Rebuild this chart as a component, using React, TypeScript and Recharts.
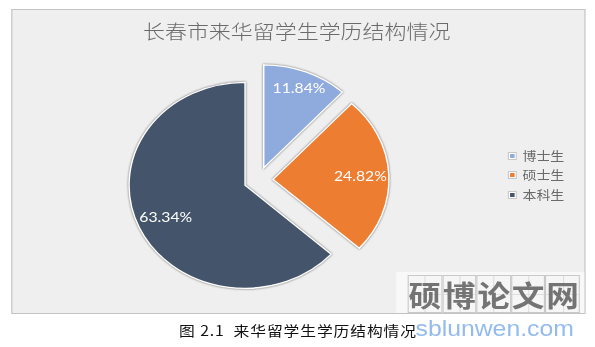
import { PieChart, Pie, Cell } from 'recharts';

// source picture is stretched horizontally, so lay out at 528 wide and scale x
const STRETCH = 1.126;
const BASE_W = 528;
const BASE_H = 347;

const categories = ['博士生', '硕士生', '本科生'];
const shares = [11.84, 24.82, 63.34];
const colors = ['#8FAADC', '#ED7D31', '#44546A'];

const title = '长春市来华留学生学历结构情况';
const caption = '图 2.1  来华留学生学历结构情况';
const watermarkChars = ['硕', '博', '论', '文', '网'];
const watermarkUrl = 'sblunwen.com';

const CX = 229.5;
const CY = 180;
const RADIUS = 103;
const EXPLODE = 13;

const data = categories.map((name, i) => ({ name, value: shares[i] }));
const total = shares.reduce((a, b) => a + b, 0);

// mid angle of each slice (recharts degrees, 0 = 3 o'clock, ccw)
const midAngles = shares.map((v, i) => {
  const before = shares.slice(0, i).reduce((a, b) => a + b, 0);
  return 90 - (360 * (before + v / 2)) / total;
});

const RAD = Math.PI / 180;

function makeLabel(visible: number) {
  return (props: any) => {
    const { cx, cy, midAngle, index, value } = props;
    if (index !== visible) return null;
    const c = Math.cos(-midAngle * RAD);
    const s = Math.sin(-midAngle * RAD);
    // "inside end": push the text box out until it touches the arc
    const hw = 23;
    const hh = 7;
    const t = RADIUS - 2 - (Math.abs(c) * hw + Math.abs(s) * hh);
    return (
      <text
        x={cx + t * c}
        y={cy + t * s}
        fill="#ffffff"
        fontSize={14}
        fontFamily="Lato, 'Open Sans', sans-serif"
        textAnchor="middle"
        dominantBaseline="central"
      >
        {`${Number(value).toFixed(2)}%`}
      </text>
    );
  };
}

export default function App() {
  return (
    <div
      style={{
        position: 'absolute',
        left: 0,
        top: 0,
        width: BASE_W,
        height: BASE_H,
        transform: `scaleX(${STRETCH})`,
        transformOrigin: '0 0',
        background: '#ffffff',
        fontFamily: "'Noto Sans CJK SC', sans-serif",
        overflow: 'hidden',
      }}
    >
      {/* chart frame */}
      <div
        style={{
          position: 'absolute',
          left: 9.8,
          top: 8.5,
          width: 508,
          height: 303,
          background: '#efefef',
          border: '1px solid #c3c3c3',
        }}
      />

      <div
        style={{
          position: 'absolute',
          left: 0,
          width: BASE_W,
          top: 18,
          textAlign: 'center',
          fontSize: 19.5,
          lineHeight: '26px',
          color: '#6a6a6a',
          fontWeight: 300,
        }}
      >
        <span style={{ position: 'relative', left: -0.5 }}>{title}</span>
      </div>

      <div style={{ position: 'absolute', left: 0, top: 0 }}>
        <PieChart width={BASE_W} height={BASE_H} margin={{ top: 0, right: 0, bottom: 0, left: 0 }}>
          {data.map((_, k) => {
            const dx = EXPLODE * Math.cos(midAngles[k] * RAD);
            const dy = -EXPLODE * Math.sin(midAngles[k] * RAD);
            return (
              <Pie
                key={`pie-${k}`}
                data={data}
                dataKey="value"
                nameKey="name"
                cx={CX + dx}
                cy={CY + dy}
                outerRadius={RADIUS}
                startAngle={90}
                endAngle={-270}
                paddingAngle={0}
                label={makeLabel(k)}
                labelLine={false}
                isAnimationActive={false}
              >
                {data.map((entry, i) => (
                  <Cell
                    key={`cell-${k}-${i}`}
                    fill={i === k ? colors[i] : 'none'}
                    stroke={i === k ? '#ffffff' : 'none'}
                    strokeWidth={1.3}
                    style={{
                      filter: i === k ? 'drop-shadow(0 0 0.8px rgba(0,0,0,0.55))' : 'none',
                    }}
                  />
                ))}
              </Pie>
            );
          })}
        </PieChart>
      </div>

      {/* legend */}
      <div style={{ position: 'absolute', left: 451, top: 146 }}>
        {categories.map((name, i) => (
          <div
            key={name}
            style={{ display: 'flex', alignItems: 'center', height: 19.5 }}
          >
            <div
              style={{
                width: 8,
                height: 8,
                border: '1px solid #c8c8c8',
                background: '#ffffff',
                display: 'flex',
                alignItems: 'center',
                justifyContent: 'center',
                boxSizing: 'border-box',
                marginRight: 5,
              }}
            >
              <div style={{ width: 4, height: 4, background: colors[i] }} />
            </div>
            <span style={{ fontSize: 12.4, color: '#6a6a6a', lineHeight: '16px' }}>{name}</span>
          </div>
        ))}
      </div>

      {/* watermark */}
      <div
        style={{
          position: 'absolute',
          left: 352,
          top: 272,
          width: 167,
          height: 41,
          background: 'rgba(255,255,255,0.55)',
        }}
      />
      <div style={{ position: 'absolute', left: 362, top: 275, display: 'flex' }}>
        {watermarkChars.map((ch) => (
          <div
            key={ch}
            style={{
              position: 'relative',
              width: 30.6,
              height: 38,
              boxSizing: 'border-box',
              border: '1px solid #c9c9c9',
              display: 'flex',
              alignItems: 'center',
              justifyContent: 'center',
              background: 'rgba(245,245,245,0.7)',
            }}
          >
            <div style={{ position: 'absolute', left: '50%', top: 0, bottom: 0, borderLeft: '1px solid #dedede' }} />
            <div style={{ position: 'absolute', top: '50%', left: 0, right: 0, borderTop: '1px solid #dedede' }} />
            <span
              style={{
                position: 'relative',
                fontSize: 29,
                fontWeight: 700,
                color: '#747474',
                lineHeight: '36px',
              }}
            >
              {ch}
            </span>
          </div>
        ))}
      </div>

      <div
        style={{
          position: 'absolute',
          left: 159,
          top: 320,
          fontSize: 14,
          lineHeight: '20px',
          color: '#111111',
          fontWeight: 400,
          whiteSpace: 'pre',
          letterSpacing: 0.8,
        }}
      >
        {caption}
      </div>
      <div
        style={{
          position: 'absolute',
          left: 369,
          top: 315,
          fontSize: 22,
          lineHeight: '28px',
          color: '#93bbee',
          fontFamily: "'Liberation Sans', Arial, sans-serif",
        }}
      >
        {watermarkUrl}
      </div>
    </div>
  );
}
